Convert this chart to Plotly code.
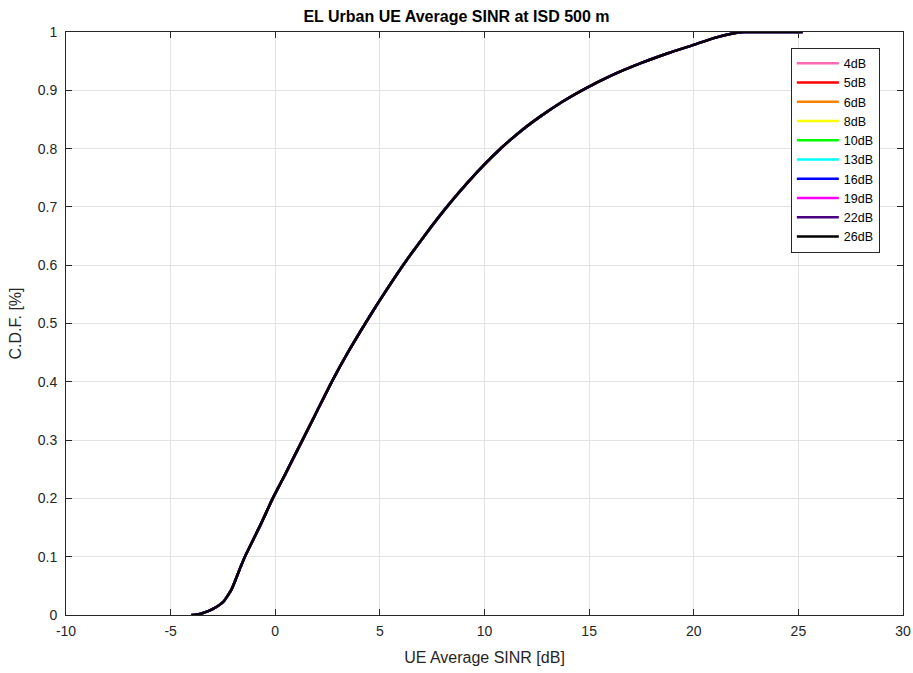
import plotly.graph_objects as go

# Empirical CDF of UE average SINR (dB) at ISD 500 m
sinr_db = [-4.0, -3.7, -3.4, -3.0, -2.5, -2.1, -1.65, -1.45, -0.7, -0.12,
           0.5, 1.3, 2.0, 2.7, 3.5, 4.3, 5.0, 6.05, 7.1, 8.2,
           9.2, 10.0, 10.8, 11.8, 12.74, 13.7, 14.66, 16.1, 17.5,
           18.8, 20.0, 21.0, 21.8, 22.4, 23.5, 25.2]
cdf = [0.0, 0.001, 0.004, 0.01, 0.022, 0.043, 0.083, 0.1, 0.155, 0.2,
       0.243, 0.3, 0.35, 0.4, 0.452, 0.5, 0.54, 0.597, 0.649, 0.7,
       0.742, 0.773, 0.801, 0.832, 0.857, 0.88, 0.9, 0.926, 0.947,
       0.964, 0.978, 0.99, 0.997, 1.0, 1.0, 1.0]

series_names = ["4dB", "5dB", "6dB", "8dB", "10dB", "13dB", "16dB", "19dB", "22dB", "26dB"]
series_colors = ["#ff69b4", "#ff0000", "#ff8000", "#ffff00", "#00ff00",
                 "#00ffff", "#0000ff", "#ff00ff", "#4b0082", "#000000"]

x_ticks = [-10, -5, 0, 5, 10, 15, 20, 25, 30]
y_ticks = [0, 0.1, 0.2, 0.3, 0.4, 0.5, 0.6, 0.7, 0.8, 0.9, 1]

fig = go.Figure()
for name, color in zip(series_names, series_colors):
    fig.add_trace(go.Scatter(
        x=sinr_db, y=cdf, mode="lines", name=name,
        line=dict(color=color, width=2.5, shape="spline", smoothing=0.5),
    ))

font_family = "Liberation Sans, Arial, sans-serif"
axis_common = dict(
    showline=True, linecolor="#262626", linewidth=1, mirror="ticks",
    ticks="inside", ticklen=6, tickcolor="#262626",
    showgrid=True, gridcolor="#e3e3e3", gridwidth=1,
    zeroline=False, automargin=False,
    tickfont=dict(family=font_family, size=14, color="#262626"),
)

fig.update_layout(
    width=913, height=673,
    margin=dict(l=66, r=10, t=32, b=58),
    paper_bgcolor="white", plot_bgcolor="white",
    title=dict(text="<b>EL Urban UE Average SINR at ISD 500 m</b>",
               x=0.5, xanchor="center", y=0.976, yanchor="middle",
               font=dict(family=font_family, size=16, color="black")),
    xaxis=dict(range=[-10, 30], tickvals=x_ticks,
               ticktext=[str(v) for v in x_ticks], ticklabelstandoff=3,
               title=dict(text="UE Average SINR [dB]", standoff=14,
                          font=dict(family=font_family, size=16, color="#262626")),
               **axis_common),
    yaxis=dict(range=[0, 1], tickvals=y_ticks, ticktext=[f"{v:g}" for v in y_ticks],
               ticklabelstandoff=5,
               title=dict(text="C.D.F. [%]", standoff=12,
                          font=dict(family=font_family, size=16, color="#262626")),
               **axis_common),
    legend=dict(x=0.866, y=0.973, xanchor="left", yanchor="top",
                bgcolor="white", bordercolor="#262626", borderwidth=1,
                font=dict(family=font_family, size=12.5, color="black"),
                tracegroupgap=0, itemwidth=42),
    showlegend=True,
)

fig.write_html("out.html")
